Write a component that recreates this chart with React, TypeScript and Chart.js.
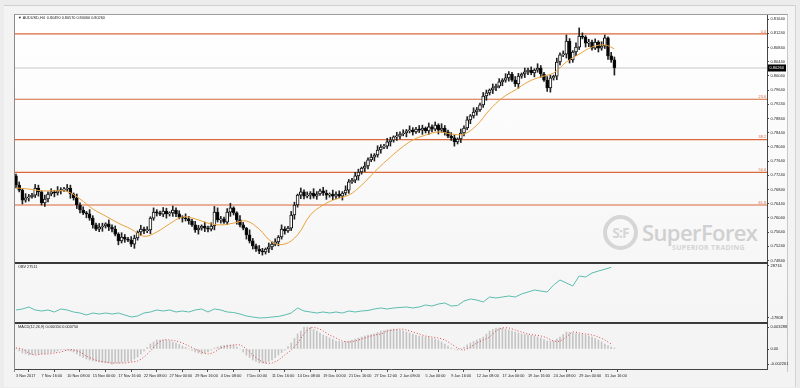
import React, { useEffect, useRef } from "react";
import { Chart, registerables } from "chart.js";
Chart.register(...registerables);

// ---------------- data ----------------
const symbolTitle = "AUDUSD,H4";
const firstOpen = 0.7722;
const closes = [
  0.7696,0.7682,0.7654,0.7660,0.7663,0.7668,0.7688,0.7677,0.7646,0.7657,
  0.7671,0.7677,0.7674,0.7680,0.7682,0.7685,0.7688,0.7671,0.7660,0.7640,
  0.7626,0.7618,0.7615,0.7603,0.7584,0.7572,0.7578,0.7581,0.7587,0.7578,
  0.7572,0.7558,0.7539,0.7550,0.7544,0.7541,0.7530,0.7547,0.7564,0.7572,
  0.7567,0.7570,0.7603,0.7620,0.7618,0.7614,0.7623,0.7615,0.7618,0.7626,
  0.7615,0.7606,0.7603,0.7601,0.7595,0.7584,0.7570,0.7575,0.7581,0.7575,
  0.7572,0.7581,0.7620,0.7598,0.7601,0.7592,0.7620,0.7632,0.7618,0.7598,
  0.7584,0.7575,0.7556,0.7539,0.7525,0.7516,0.7510,0.7508,0.7516,0.7522,
  0.7530,0.7536,0.7550,0.7572,0.7567,0.7575,0.7612,0.7640,0.7668,0.7677,
  0.7665,0.7668,0.7674,0.7665,0.7671,0.7680,0.7674,0.7668,0.7671,0.7665,
  0.7671,0.7665,0.7674,0.7682,0.7705,0.7710,0.7722,0.7733,0.7744,0.7750,
  0.7767,0.7775,0.7781,0.7795,0.7803,0.7806,0.7818,0.7823,0.7832,0.7834,
  0.7840,0.7843,0.7849,0.7851,0.7846,0.7854,0.7851,0.7857,0.7849,0.7860,
  0.7854,0.7865,0.7851,0.7857,0.7846,0.7834,0.7829,0.7818,0.7826,0.7843,
  0.7857,0.7880,0.7891,0.7902,0.7908,0.7922,0.7947,0.7956,0.7964,0.7970,
  0.7975,0.7987,0.7992,0.7998,0.8009,0.7992,0.7981,0.8003,0.8009,0.8015,
  0.8020,0.8012,0.8020,0.8026,0.8009,0.7992,0.7970,0.7998,0.8003,0.8043,
  0.8063,0.8065,0.8102,0.8049,0.8071,0.8085,0.8116,0.8113,0.8096,0.8099,
  0.8082,0.8099,0.8082,0.8088,0.8111,0.8060,0.8049,0.8026,
];
const highs = [
  0.7727,0.7705,0.7686,0.7672,0.7670,0.7673,0.7698,0.7696,0.7680,0.7668,
  0.7677,0.7686,0.7681,0.7692,0.7689,0.7690,0.7698,0.7696,0.7674,0.7671,
  0.7646,0.7635,0.7622,0.7627,0.7610,0.7589,0.7588,0.7589,0.7590,0.7598,
  0.7584,0.7581,0.7562,0.7562,0.7557,0.7549,0.7551,0.7555,0.7567,0.7583,
  0.7578,0.7579,0.7607,0.7632,0.7627,0.7623,0.7633,0.7631,0.7621,0.7637,
  0.7632,0.7624,0.7610,0.7615,0.7608,0.7600,0.7594,0.7583,0.7584,0.7592,
  0.7581,0.7590,0.7636,0.7632,0.7608,0.7606,0.7630,0.7645,0.7635,0.7621,
  0.7610,0.7591,0.7577,0.7570,0.7546,0.7530,0.7526,0.7518,0.7519,0.7533,
  0.7536,0.7545,0.7554,0.7584,0.7579,0.7580,0.7622,0.7648,0.7671,0.7688,
  0.7683,0.7677,0.7678,0.7686,0.7678,0.7685,0.7690,0.7682,0.7674,0.7682,
  0.7677,0.7680,0.7678,0.7694,0.7712,0.7715,0.7732,0.7741,0.7747,0.7761,
  0.7773,0.7784,0.7785,0.7807,0.7810,0.7811,0.7828,0.7831,0.7835,0.7845,
  0.7846,0.7852,0.7853,0.7863,0.7858,0.7859,0.7864,0.7865,0.7860,0.7871,
  0.7866,0.7874,0.7869,0.7869,0.7864,0.7851,0.7844,0.7837,0.7829,0.7854,
  0.7863,0.7889,0.7895,0.7914,0.7915,0.7927,0.7957,0.7964,0.7967,0.7981,
  0.7981,0.7996,0.7996,0.8010,0.8016,0.8014,0.8002,0.8011,0.8012,0.8026,
  0.8026,0.8029,0.8024,0.8038,0.8033,0.8014,0.8002,0.8006,0.8006,0.8054,
  0.8069,0.8074,0.8119,0.8109,0.8075,0.8097,0.8139,0.8125,0.8117,0.8107,
  0.8105,0.8108,0.8103,0.8100,0.8119,0.8114,0.8070,0.8057,
];
const lows = [
  0.7688,0.7677,0.7643,0.7648,0.7651,0.7659,0.7661,0.7665,0.7640,0.7636,
  0.7649,0.7666,0.7663,0.7668,0.7671,0.7678,0.7678,0.7659,0.7654,0.7630,
  0.7618,0.7613,0.7604,0.7597,0.7575,0.7568,0.7565,0.7566,0.7575,0.7568,
  0.7564,0.7553,0.7528,0.7533,0.7535,0.7537,0.7523,0.7518,0.7541,0.7554,
  0.7559,0.7562,0.7559,0.7597,0.7609,0.7610,0.7607,0.7603,0.7609,0.7608,
  0.7607,0.7601,0.7592,0.7595,0.7586,0.7580,0.7563,0.7558,0.7569,0.7565,
  0.7564,0.7567,0.7570,0.7592,0.7589,0.7588,0.7585,0.7608,0.7612,0.7586,
  0.7578,0.7570,0.7544,0.7533,0.7516,0.7509,0.7503,0.7499,0.7502,0.7506,
  0.7514,0.7525,0.7525,0.7544,0.7558,0.7563,0.7568,0.7600,0.7634,0.7658,
  0.7657,0.7660,0.7657,0.7659,0.7656,0.7667,0.7667,0.7656,0.7662,0.7655,
  0.7657,0.7660,0.7654,0.7668,0.7673,0.7701,0.7703,0.7710,0.7727,0.7734,
  0.7742,0.7762,0.7764,0.7775,0.7786,0.7799,0.7799,0.7806,0.7817,0.7822,
  0.7826,0.7835,0.7832,0.7843,0.7837,0.7842,0.7844,0.7839,0.7843,0.7839,
  0.7846,0.7849,0.7840,0.7845,0.7837,0.7830,0.7822,0.7806,0.7812,0.7816,
  0.7835,0.7852,0.7869,0.7885,0.7893,0.7904,0.7915,0.7935,0.7950,0.7954,
  0.7962,0.7970,0.7976,0.7986,0.7989,0.7988,0.7974,0.7969,0.7997,0.7999,
  0.8007,0.8007,0.8001,0.8014,0.8000,0.7988,0.7960,0.7958,0.7992,0.7993,
  0.8035,0.8058,0.8054,0.8040,0.8042,0.8061,0.8078,0.8108,0.8085,0.8086,
  0.8076,0.8078,0.8071,0.8076,0.8081,0.8050,0.8042,0.8006,
];
const maIndex = [0,4,8,12,16,20,24,28,32,36,40,44,48,52,56,60,64,68,72,76,80,84,88,92,96,100,104,108,112,116,120,124,128,132,136,140,144,148,152,156,160,164,168,172,176,180,184,187];
const maValues = [0.7688,0.7685,0.7680,0.7680,0.7678,0.7657,0.7629,0.7609,0.7589,0.7572,0.7552,0.7564,0.7587,0.7606,0.7601,0.7589,0.7584,0.7589,0.7595,0.7572,0.7536,0.7530,0.7556,0.7612,0.7640,0.7657,0.7668,0.7696,0.7733,0.7767,0.7798,0.7823,0.7837,0.7846,0.7840,0.7840,0.7865,0.7908,0.7942,0.7964,0.7987,0.8001,0.8012,0.8043,0.8065,0.8085,0.8091,0.8080];
const fibLevels = [0.8122, 0.7938, 0.7824, 0.7732, 0.7640];
const fibLabels = ["0.0", "23.6", "38.2", "50.0", "61.8"];
const priceTicks = [0.8164,0.8124,0.8084,0.8044,0.8004,0.7964,0.7924,0.7884,0.7844,0.7804,0.7764,0.7724,0.7684,0.7644,0.7604,0.7564,0.7524,0.7484];

const obvStep = 2;
const obvValues = [
  -10651,-9756,-7967,-10651,-11546,-10651,-12440,-9756,-10651,-12440,
  -13335,-15124,-13335,-14230,-13335,-14230,-13335,-15124,-16914,-16019,
  -13335,-12440,-10651,-11546,-10651,-12440,-11546,-12440,-10651,-9756,
  -12440,-9756,-10651,-12440,-12890,-14230,-16019,-16914,-17808,-17520,
  -16914,-16400,-15124,-13335,-8861,-11546,-12440,-13335,-12440,-13335,
  -12440,-13335,-11546,-12440,-11546,-11100,-9756,-8861,-9756,-8861,
  -8400,-7967,-8861,-7967,-6177,-7072,-5283,-4388,-7072,-6600,
  -2599,-809,-1704,-3493,980,86,980,1875,980,3664,
  5454,7243,6348,5454,11717,16190,13506,10822,19769,18874,
  22453,24242,25800,27511,
];
const obvTicks = [28716, -17808];

const macdHist = [
  0,-0.0003,-0.0006,-0.00075,-0.0009,-0.00083,-0.00075,-0.00075,-0.00075,-0.00068,
  -0.0006,-0.00053,-0.00045,-0.0003,-0.00015,-0.00015,-0.00015,-0.0003,-0.00045,-0.00075,
  -0.00105,-0.00128,-0.0015,-0.00165,-0.0018,-0.00188,-0.00195,-0.00203,-0.0021,-0.0021,
  -0.00226,-0.0021,-0.0021,-0.00203,-0.00195,-0.00188,-0.0018,-0.0015,-0.0012,-0.00075,
  -0.0003,0.00023,0.00075,0.00105,0.00135,0.00135,0.00135,0.00128,0.0012,0.00105,
  0.0009,0.00068,0.00045,0.00023,0,-0.00023,-0.00045,-0.0006,-0.00075,-0.0006,
  -0.00045,-0.00015,0.00015,0.0003,0.00045,0.00053,0.0006,0.0006,0.0006,0.0003,
  0,-0.00045,-0.0009,-0.00128,-0.00165,-0.00188,-0.0021,-0.0021,-0.0021,-0.00188,
  -0.00165,-0.00128,-0.0009,-0.00053,-0.00015,0.00038,0.0009,0.00158,0.00225,0.0027,
  0.00329,0.00329,0.00329,0.00293,0.0027,0.0024,0.0021,0.00188,0.00165,0.00143,
  0.0012,0.00113,0.00105,0.00113,0.0012,0.00135,0.0015,0.00165,0.0018,0.00195,
  0.0021,0.00218,0.00225,0.00248,0.0027,0.00278,0.00285,0.00293,0.003,0.00293,
  0.00285,0.0027,0.00255,0.0024,0.00225,0.0021,0.00195,0.00188,0.0018,0.00173,
  0.00165,0.0015,0.00135,0.00105,0.00075,0.00045,0.00015,0,-0.00015,0.00008,
  0.0003,0.0006,0.0009,0.00113,0.00135,0.00158,0.0018,0.00225,0.0027,0.00293,
  0.00315,0.00315,0.00315,0.003,0.00285,0.0027,0.00255,0.0024,0.00225,0.00218,
  0.0021,0.00203,0.00195,0.0018,0.00165,0.00143,0.0012,0.0012,0.0012,0.0015,
  0.0018,0.00218,0.00255,0.00248,0.0024,0.00233,0.00225,0.00218,0.0021,0.00195,
  0.0018,0.00158,0.00135,0.00105,0.00075,0.00053,0.0003,0.00015,
];
const signalStep = 2;
const macdSignal = [
  0.00015,0,-0.0006,-0.0009,-0.00075,-0.00075,-0.0006,-0.00045,-0.00015,-0.00015,
  -0.00045,-0.00105,-0.0015,-0.0018,-0.00195,-0.0021,-0.0021,-0.0021,-0.00195,-0.0018,
  -0.0012,-0.0003,0.00075,0.00135,0.00135,0.0012,0.0009,0.00045,0,-0.00045,
  -0.00075,-0.00045,0.00015,0.00045,0.0006,0.0006,0,-0.0009,-0.00165,-0.0021,
  -0.0021,-0.00165,-0.0009,-0.00015,0.0009,0.00225,0.00315,0.00315,0.0027,0.0021,
  0.00165,0.0012,0.00105,0.0012,0.0015,0.0018,0.0021,0.00225,0.0027,0.00285,
  0.003,0.00285,0.00255,0.00225,0.00195,0.0018,0.00165,0.00135,0.00075,0.00015,
  -0.00015,0.0003,0.0009,0.00135,0.0018,0.0027,0.00315,0.00315,0.00285,0.00255,
  0.00225,0.0021,0.00195,0.00165,0.0012,0.0012,0.0018,0.00255,0.0024,0.00225,
  0.0021,0.0018,0.00135,0.00075,
];
const macdTicks = [0.003288, 0, -0.002261];
const macdTickLabels = ["0.003288", "0.00", "-0.002261"];

const timeEvery = 8;
const timeLabels = [
  "3 Nov 2017","7 Nov 16:00","10 Nov 08:00","15 Nov 00:00","17 Nov 16:00","22 Nov 08:00",
  "27 Nov 00:00","29 Nov 16:00","4 Dec 08:00","7 Dec 00:00","11 Dec 16:00","14 Dec 08:00",
  "19 Dec 00:00","21 Dec 16:00","27 Dec 12:00","2 Jan 08:00","5 Jan 00:00","9 Jan 16:00",
  "12 Jan 08:00","17 Jan 00:00","19 Jan 16:00","24 Jan 08:00","29 Jan 00:00","31 Jan 16:00",
];

// ---------------- layout ----------------
const FONT = "'Liberation Sans', Arial, sans-serif";
const X_MIN = -0.3125;
const X_MAX = 234.69;
const PLOT_LEFT = 15;
const PLOT_W = 752;
const AXIS_W = 28;
const MAIN_TOP = 15, MAIN_H = 247;
const OBV_TOP = 264, OBV_H = 58;
const MACD_TOP = 324, MACD_H = 45, XAXIS_H = 19;

const opens = closes.map((c, i) => (i === 0 ? firstOpen : closes[i - 1]));
const lastIdx = closes.length - 1;
const bidPrice = closes[lastIdx];

const fitY = (scale: any) => {
  scale.width = AXIS_W;
  scale.paddingTop = 0;
  scale.paddingBottom = 0;
};

const xHidden = { type: "linear", min: X_MIN, max: X_MAX, display: false, offset: false };

const yAxis = (min: number, max: number, ticks: number[], cb: (v: number) => string) => ({
  position: "right",
  min,
  max,
  afterBuildTicks: (s: any) => {
    s.ticks = ticks.map((v) => ({ value: v }));
  },
  afterFit: fitY,
  ticks: { font: { size: 4, family: FONT }, color: "#222", padding: 1.5, callback: (v: any) => cb(Number(v)) },
  grid: { drawOnChartArea: false, drawTicks: true, tickLength: 2, color: "#444" },
  border: { display: true, color: "#444", width: 1 },
});

const baseOpts = (scales: any) => ({
  animation: false,
  responsive: false,
  maintainAspectRatio: false,
  events: [],
  layout: { padding: 0 },
  plugins: { legend: { display: false }, tooltip: { enabled: false } },
  scales,
});

const titleDraw = (ctx: CanvasRenderingContext2D, area: any, text: string) => {
  ctx.save();
  ctx.font = `3.8px ${FONT}`;
  ctx.fillStyle = "#222";
  ctx.textAlign = "left";
  ctx.textBaseline = "top";
  ctx.fillText(text, area.left + 3, area.top + 1.5);
  ctx.restore();
};

export default function App() {
  const mainRef = useRef<HTMLCanvasElement>(null);
  const obvRef = useRef<HTMLCanvasElement>(null);
  const macdRef = useRef<HTMLCanvasElement>(null);

  useEffect(() => {
    const charts: Chart[] = [];

    const mainOverlay = {
      id: "mainOverlay",
      afterDraw(chart: any) {
        const { ctx, chartArea, scales } = chart;
        const y = scales.y;
        titleDraw(
          ctx,
          chartArea,
          `\u25BC ${symbolTitle}  ${opens[lastIdx].toFixed(5)} ${highs[lastIdx].toFixed(5)} ${lows[lastIdx].toFixed(5)} ${closes[lastIdx].toFixed(5)}`
        );
        ctx.save();
        ctx.font = `3.8px ${FONT}`;
        ctx.fillStyle = "#d8683a";
        ctx.textAlign = "right";
        ctx.textBaseline = "bottom";
        fibLevels.forEach((lvl, k) => {
          ctx.fillText(fibLabels[k], chartArea.right - 1, y.getPixelForValue(lvl) - 0.5);
        });
        const py = y.getPixelForValue(bidPrice);
        ctx.fillStyle = "#000";
        ctx.fillRect(chartArea.right + 1, py - 3.5, 18, 7);
        ctx.fillStyle = "#fff";
        ctx.font = `4px ${FONT}`;
        ctx.textAlign = "left";
        ctx.textBaseline = "middle";
        ctx.fillText(bidPrice.toFixed(5), chartArea.right + 2.5, py);
        ctx.restore();
      },
    };

    charts.push(
      new Chart(mainRef.current as HTMLCanvasElement, {
        type: "bar",
        data: {
          datasets: [
            {
              type: "line",
              data: maIndex.map((x, k) => ({ x, y: maValues[k] })),
              borderColor: "#e9a13b",
              borderWidth: 1,
              pointRadius: 0,
              tension: 0.4,
              order: 0,
            },
            {
              type: "bar",
              data: closes.map((c, i) => ({ x: i, y: [opens[i], c] })),
              backgroundColor: closes.map((c, i) => (c >= opens[i] ? "#ffffff" : "#000000")),
              borderColor: "#111111",
              borderWidth: 1,
              borderSkipped: false,
              barThickness: 3,
              minBarLength: 1,
              grouped: false,
              order: 1,
            },
            {
              type: "bar",
              data: highs.map((h, i) => ({ x: i, y: [lows[i], h] })),
              backgroundColor: "#222222",
              barThickness: 1,
              grouped: false,
              order: 2,
            },
            ...fibLevels.map((lvl) => ({
              type: "line",
              data: [
                { x: X_MIN, y: lvl },
                { x: X_MAX, y: lvl },
              ],
              borderColor: "#d9683a",
              borderWidth: 1.2,
              pointRadius: 0,
              order: 3,
            })),
            {
              type: "line",
              data: [
                { x: X_MIN, y: bidPrice },
                { x: X_MAX, y: bidPrice },
              ],
              borderColor: "#c8c8c8",
              borderWidth: 1,
              pointRadius: 0,
              order: 4,
            },
          ],
        } as any,
        options: baseOpts({
          x: xHidden,
          y: yAxis(0.74795, 0.81753, priceTicks, (v) => v.toFixed(5)),
        }) as any,
        plugins: [mainOverlay],
      })
    );

    const obvOverlay = {
      id: "obvOverlay",
      afterDraw(chart: any) {
        titleDraw(chart.ctx, chart.chartArea, `OBV ${obvValues[obvValues.length - 1]}`);
      },
    };
    charts.push(
      new Chart(obvRef.current as HTMLCanvasElement, {
        type: "line",
        data: {
          datasets: [
            {
              data: obvValues.map((v, k) => ({ x: k * obvStep, y: v })),
              borderColor: "#5cbcae",
              borderWidth: 1,
              pointRadius: 0,
              tension: 0,
            },
          ],
        } as any,
        options: baseOpts({
          x: xHidden,
          y: yAxis(-21387, 30505, obvTicks, (v) => String(Math.round(v))),
        }) as any,
        plugins: [obvOverlay],
      })
    );

    const macdOverlay = {
      id: "macdOverlay",
      afterDraw(chart: any) {
        titleDraw(
          chart.ctx,
          chart.chartArea,
          `MACD(12,26,9) ${macdHist[macdHist.length - 1].toFixed(6)} ${macdSignal[macdSignal.length - 1].toFixed(6)}`
        );
      },
    };
    charts.push(
      new Chart(macdRef.current as HTMLCanvasElement, {
        type: "bar",
        data: {
          datasets: [
            {
              type: "line",
              data: macdSignal.map((v, k) => ({ x: k * signalStep, y: v })),
              borderColor: "#d84848",
              borderWidth: 1,
              borderDash: [1, 2],
              pointRadius: 0,
              tension: 0.3,
              order: 0,
            },
            {
              type: "bar",
              data: macdHist.map((v, i) => ({ x: i, y: v })),
              backgroundColor: "#c4c4c4",
              barThickness: 1,
              grouped: false,
              order: 1,
            },
          ],
        } as any,
        options: baseOpts({
          x: {
            type: "linear",
            position: "bottom",
            min: X_MIN,
            max: X_MAX,
            offset: false,
            afterBuildTicks: (s: any) => {
              s.ticks = timeLabels.map((_, k) => ({ value: k * timeEvery }));
            },
            afterFit: (s: any) => {
              s.height = XAXIS_H;
              s.paddingLeft = 0;
              s.paddingRight = 0;
            },
            ticks: {
              autoSkip: false,
              maxRotation: 0,
              minRotation: 0,
              align: "start",
              padding: 1.5,
              font: { size: 3.8, family: FONT },
              color: "#222",
              callback: (v: any) => timeLabels[Math.round(Number(v) / timeEvery)],
            },
            grid: { drawOnChartArea: false, drawTicks: true, tickLength: 3, color: "#555" },
            border: { display: true, color: "#444", width: 1 },
          },
          y: yAxis(-0.003, 0.00375, macdTicks, (v) => {
            const k = macdTicks.findIndex((t) => Math.abs(t - v) < 1e-9);
            return k >= 0 ? macdTickLabels[k] : "";
          }),
        }) as any,
        plugins: [macdOverlay],
      })
    );

    return () => charts.forEach((c) => c.destroy());
  }, []);

  const abs = (l: number, t: number, w: number, h: number, extra: any = {}) => ({
    position: "absolute" as const,
    left: l,
    top: t,
    width: w,
    height: h,
    ...extra,
  });

  return (
    <div style={abs(0, 0, 800, 388, { background: "#ececec", overflow: "hidden" })}>
      <div style={abs(4, 5, 792, 382, { background: "#f3f3f3", borderTop: "1px solid #cfcfcf", borderRight: "1px solid #d4d4d4", boxSizing: "border-box" })} />
      <div style={abs(14, 14, 774, 358, { background: "linear-gradient(#ffffff, #f3f3f3)", borderLeft: "1px solid #8a8a8a", borderTop: "1px solid #9c9c9c", borderRight: "1px solid #c8c8c8", boxSizing: "border-box" })} />
      {/* watermark */}
      <div style={abs(603, 215, 35, 35, { borderRadius: "50%", border: "4px solid #d6d6d6", boxSizing: "border-box", color: "#d6d6d6", fontFamily: "'Open Sans', sans-serif", fontWeight: 700, fontSize: 14, lineHeight: "27px", textAlign: "center", letterSpacing: -1 })}>
        S:F
      </div>
      <div style={abs(642, 219, 110, 28, { color: "#d0d0d0", fontFamily: "'Open Sans', sans-serif", fontWeight: 600, fontSize: 22, lineHeight: "26px", letterSpacing: -0.6, whiteSpace: "nowrap" })}>
        SuperForex
      </div>
      <div style={abs(672, 243, 80, 9, { color: "#d4d4d4", fontFamily: "'Open Sans', sans-serif", fontWeight: 700, fontSize: 7, lineHeight: "9px", letterSpacing: 0.3, whiteSpace: "nowrap" })}>
        SUPERIOR TRADING
      </div>
      {/* panel separators */}
      <div style={abs(PLOT_LEFT, 262, PLOT_W + 1, 2, { background: "#3a3a3a" })} />
      <div style={abs(PLOT_LEFT, 322, PLOT_W + 1, 2, { background: "#3a3a3a" })} />
      <canvas ref={mainRef} width={PLOT_W + AXIS_W} height={MAIN_H} style={abs(PLOT_LEFT, MAIN_TOP, PLOT_W + AXIS_W, MAIN_H, { display: "block" })} />
      <canvas ref={obvRef} width={PLOT_W + AXIS_W} height={OBV_H} style={abs(PLOT_LEFT, OBV_TOP, PLOT_W + AXIS_W, OBV_H, { display: "block" })} />
      <canvas ref={macdRef} width={PLOT_W + AXIS_W} height={MACD_H + XAXIS_H} style={abs(PLOT_LEFT, MACD_TOP, PLOT_W + AXIS_W, MACD_H + XAXIS_H, { display: "block" })} />
    </div>
  );
}
